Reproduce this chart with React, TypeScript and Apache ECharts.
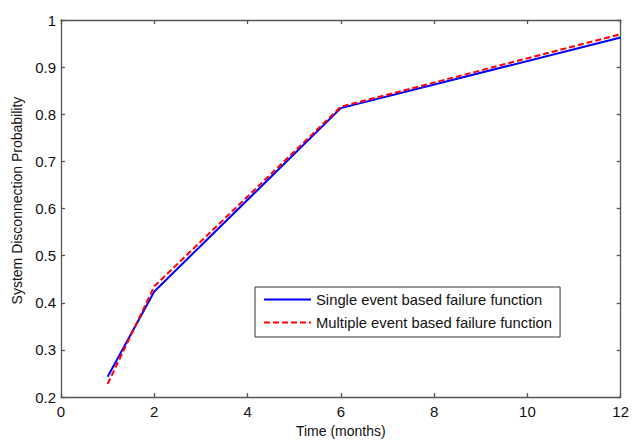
import React, { useEffect, useRef } from "react";
import * as echarts from "echarts";

const months = [1, 2, 6, 12];
const singleEvent = [0.243, 0.424, 0.813, 0.963];
const multipleEvent = [0.228, 0.435, 0.816, 0.97];
const xTicks = [0, 2, 4, 6, 8, 10, 12];
const yTicks = [0.2, 0.3, 0.4, 0.5, 0.6, 0.7, 0.8, 0.9, 1];
const seriesNames = ["Single event based failure function", "Multiple event based failure function"];

const FONT = "Liberation Sans, Arial, sans-serif";
const AXIS_COLOR = "#555";
const TEXT_COLOR = "#111";

export default function App() {
  const ref = useRef<HTMLDivElement>(null);
  useEffect(() => {
    if (!ref.current) return;
    const chart = echarts.init(ref.current, undefined, { renderer: "svg" });
    const pair = (xs: number[], ys: number[]) => xs.map((x, i) => [x, ys[i]]);
    const axisLine = { show: true, onZero: false, lineStyle: { color: AXIS_COLOR, width: 1.3 } };
    const axisTick = { show: true, inside: true, length: 4, lineStyle: { color: AXIS_COLOR, width: 1.3 } };
    const xMin = xTicks[0];
    const xMax = xTicks[xTicks.length - 1];
    const yMin = yTicks[0];
    const yMax = yTicks[yTicks.length - 1];
    chart.setOption({
      animation: false,
      backgroundColor: "#ffffff",
      textStyle: { fontFamily: FONT },
      grid: { left: 61, right: 8, top: 20, bottom: 41, containLabel: false },
      legend: {
        orient: "vertical",
        left: 255,
        top: 287,
        padding: [5, 8, 7, 8],
        itemWidth: 47,
        itemHeight: 14,
        itemGap: 8,
        backgroundColor: "#ffffff",
        borderColor: "#333",
        borderWidth: 1,
        itemStyle: { opacity: 0 },
        data: seriesNames,
        textStyle: { fontFamily: FONT, fontSize: 14.8, color: TEXT_COLOR },
      },
      xAxis: [
        {
          type: "value",
          min: xMin,
          max: xMax,
          interval: 2,
          position: "bottom",
          axisLine,
          axisTick,
          splitLine: { show: false },
          axisLabel: { fontFamily: FONT, fontSize: 15, color: TEXT_COLOR, margin: 7 },
          name: "Time (months)",
          nameLocation: "middle",
          nameGap: 24,
          nameTextStyle: { fontFamily: FONT, fontSize: 14, color: TEXT_COLOR },
        },
        {
          type: "value",
          min: xMin,
          max: xMax,
          interval: 2,
          position: "top",
          axisLine,
          axisTick,
          splitLine: { show: false },
          axisLabel: { show: false },
        },
      ],
      yAxis: [
        {
          type: "value",
          min: yMin,
          max: yMax,
          interval: 0.1,
          position: "left",
          axisLine,
          axisTick,
          splitLine: { show: false },
          axisLabel: {
            fontFamily: FONT,
            fontSize: 15,
            color: TEXT_COLOR,
            margin: 5,
            formatter: (v: number) => String(parseFloat(v.toFixed(1))),
          },
          name: "System Disconnection Probability",
          nameLocation: "middle",
          nameGap: 37,
          nameTextStyle: { fontFamily: FONT, fontSize: 14, color: TEXT_COLOR, padding: [0, 0, 0, 16] },
        },
        {
          type: "value",
          min: yMin,
          max: yMax,
          interval: 0.1,
          position: "right",
          axisLine,
          axisTick,
          splitLine: { show: false },
          axisLabel: { show: false },
        },
      ],
      series: [
        {
          name: seriesNames[0],
          type: "line",
          data: pair(months, singleEvent),
          symbol: "none",
          lineStyle: { color: "#0000ff", width: 2 },
          itemStyle: { color: "#0000ff" },
          z: 2,
        },
        {
          name: seriesNames[1],
          type: "line",
          data: pair(months, multipleEvent),
          symbol: "none",
          lineStyle: { color: "#ff0000", width: 2, type: [6, 3] },
          itemStyle: { color: "#ff0000" },
          z: 3,
        },
      ],
    });
    return () => chart.dispose();
  }, []);
  return <div ref={ref} style={{ position: "absolute", left: 0, top: 0, width: 632, height: 443 }} />;
}
